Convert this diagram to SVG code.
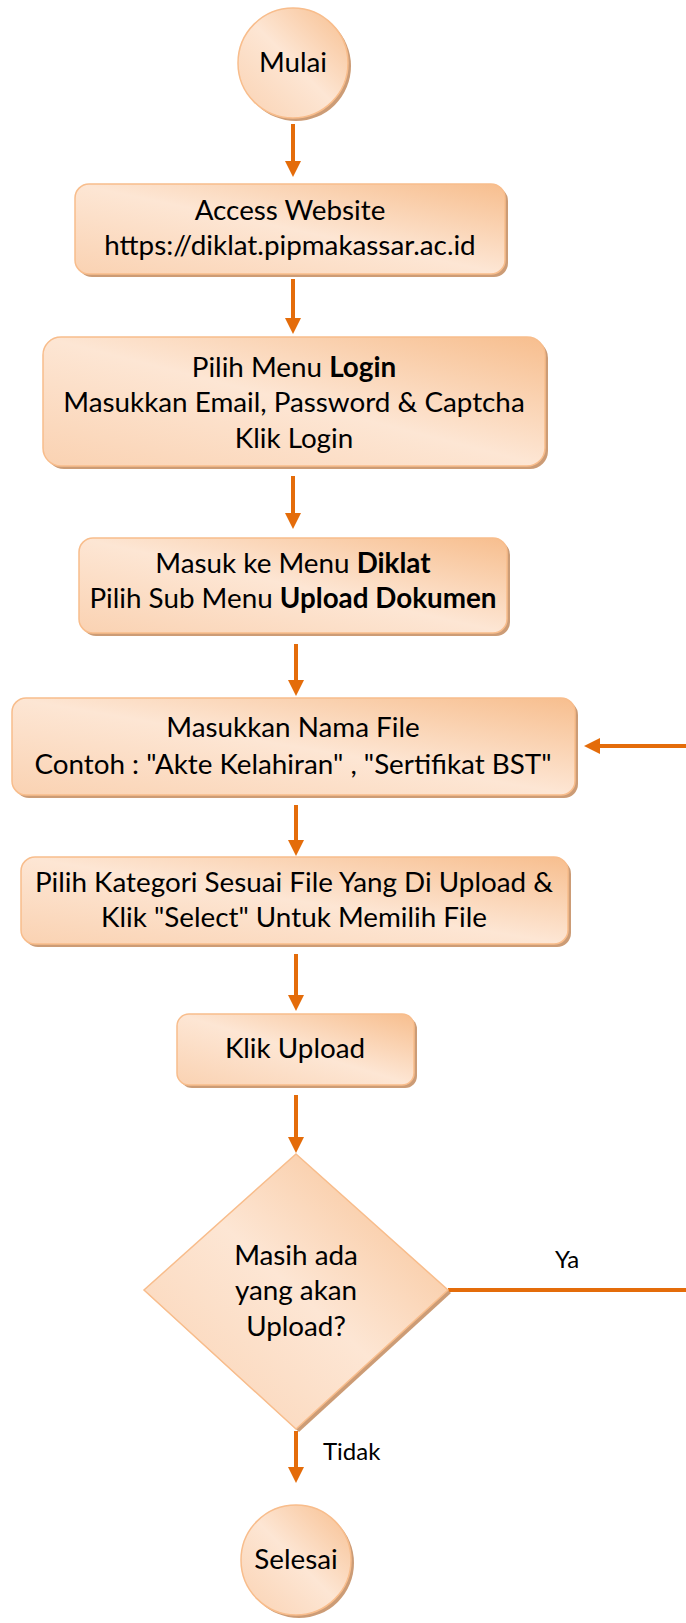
<svg xmlns="http://www.w3.org/2000/svg" width="686" height="1623" viewBox="0 0 686 1623">
<style>
.node{fill:url(#g);stroke:#F8BD8C;stroke-width:1.5}
.sh{fill:#CC9C76}
.t{font-family:Lato,"Open Sans",sans-serif;font-size:27.8px;fill:#000;text-anchor:middle}
.s{font-family:Lato,"Open Sans",sans-serif;font-size:24px;fill:#000}
.c{fill:none;stroke:#E46C0A;stroke-width:4}
</style>
<defs>
<linearGradient id="g" x1="100%" y1="0%" x2="0%" y2="100%">
<stop offset="0" stop-color="#F7BE8E"/>
<stop offset="0.5" stop-color="#FDE6D4"/>
<stop offset="1" stop-color="#FAD2B2"/>
</linearGradient>
<marker id="a" markerWidth="4" markerHeight="4" refX="0.5" refY="2" orient="auto" markerUnits="strokeWidth">
<path d="M0,0 L4,2 L0,4 z" fill="#E46C0A"/>
</marker>
</defs>
<g id="connectors">
<path class="c" d="M293,124 V163" marker-end="url(#a)"/>
<path class="c" d="M293,279 V320" marker-end="url(#a)"/>
<path class="c" d="M293,476 V515" marker-end="url(#a)"/>
<path class="c" d="M296,644 V682" marker-end="url(#a)"/>
<path class="c" d="M296,805 V842" marker-end="url(#a)"/>
<path class="c" d="M296,954 V997" marker-end="url(#a)"/>
<path class="c" d="M296,1095 V1139" marker-end="url(#a)"/>
<path class="c" d="M296,1431 V1469" marker-end="url(#a)"/>
<path class="c" d="M448,1290 H700 V746 H598" marker-end="url(#a)"/>
</g>
<g id="mulai">
<circle class="sh" cx="296" cy="66" r="55"/>
<circle class="node" cx="293" cy="63" r="55"/>
<text class="t" x="293" y="72">Mulai</text>
</g>
<g id="access">
<rect class="sh" x="78" y="187" width="430" height="90" rx="14"/>
<rect class="node" x="75" y="184" width="430" height="90" rx="14"/>
<text class="t" x="290" y="220">Access Website</text>
<text class="t" x="290" y="255">https://diklat.pipmakassar.ac.id</text>
</g>
<g id="login">
<rect class="sh" x="46" y="340" width="502" height="129" rx="18"/>
<rect class="node" x="43" y="337" width="502" height="129" rx="18"/>
<text class="t" x="294" y="377">Pilih Menu <tspan font-weight="bold">Login</tspan></text>
<text class="t" x="294" y="412">Masukkan Email, Password &amp; Captcha</text>
<text class="t" x="294" y="448">Klik Login</text>
</g>
<g id="diklat">
<rect class="sh" x="82" y="541" width="428" height="95" rx="14"/>
<rect class="node" x="79" y="538" width="428" height="95" rx="14"/>
<text class="t" x="293" y="573">Masuk ke Menu <tspan font-weight="bold">Diklat</tspan></text>
<text class="t" x="293" y="608">Pilih Sub Menu <tspan font-weight="bold">Upload Dokumen</tspan></text>
</g>
<g id="nama">
<rect class="sh" x="15" y="701" width="563" height="97" rx="14"/>
<rect class="node" x="12" y="698" width="563" height="97" rx="14"/>
<text class="t" x="293" y="737">Masukkan Nama File</text>
<text class="t" x="293" y="774">Contoh : "Akte Kelahiran" , "Sertifikat BST"</text>
</g>
<g id="kategori">
<rect class="sh" x="24" y="860" width="547" height="87" rx="14"/>
<rect class="node" x="21" y="857" width="547" height="87" rx="14"/>
<text class="t" x="294" y="892">Pilih Kategori Sesuai File Yang Di Upload &amp;</text>
<text class="t" x="294" y="927">Klik "Select" Untuk Memilih File</text>
</g>
<g id="upload">
<rect class="sh" x="180" y="1017" width="237" height="71" rx="12"/>
<rect class="node" x="177" y="1014" width="237" height="71" rx="12"/>
<text class="t" x="295" y="1058">Klik Upload</text>
</g>
<g id="decision">
<path class="sh" d="M299,1157 L451,1293 L299,1432 L147,1293 Z"/>
<path class="node" d="M296,1154 L448,1290 L296,1429 L144,1290 Z"/>
<text class="t" x="296" y="1265">Masih ada</text>
<text class="t" x="296" y="1300">yang akan</text>
<text class="t" x="296" y="1336">Upload?</text>
</g>
<text class="s" x="555" y="1268">Ya</text>
<text class="s" x="323" y="1460">Tidak</text>
<g id="selesai">
<circle class="sh" cx="299" cy="1563" r="55"/>
<circle class="node" cx="296" cy="1560" r="55"/>
<text class="t" x="296" y="1569">Selesai</text>
</g>
</svg>
